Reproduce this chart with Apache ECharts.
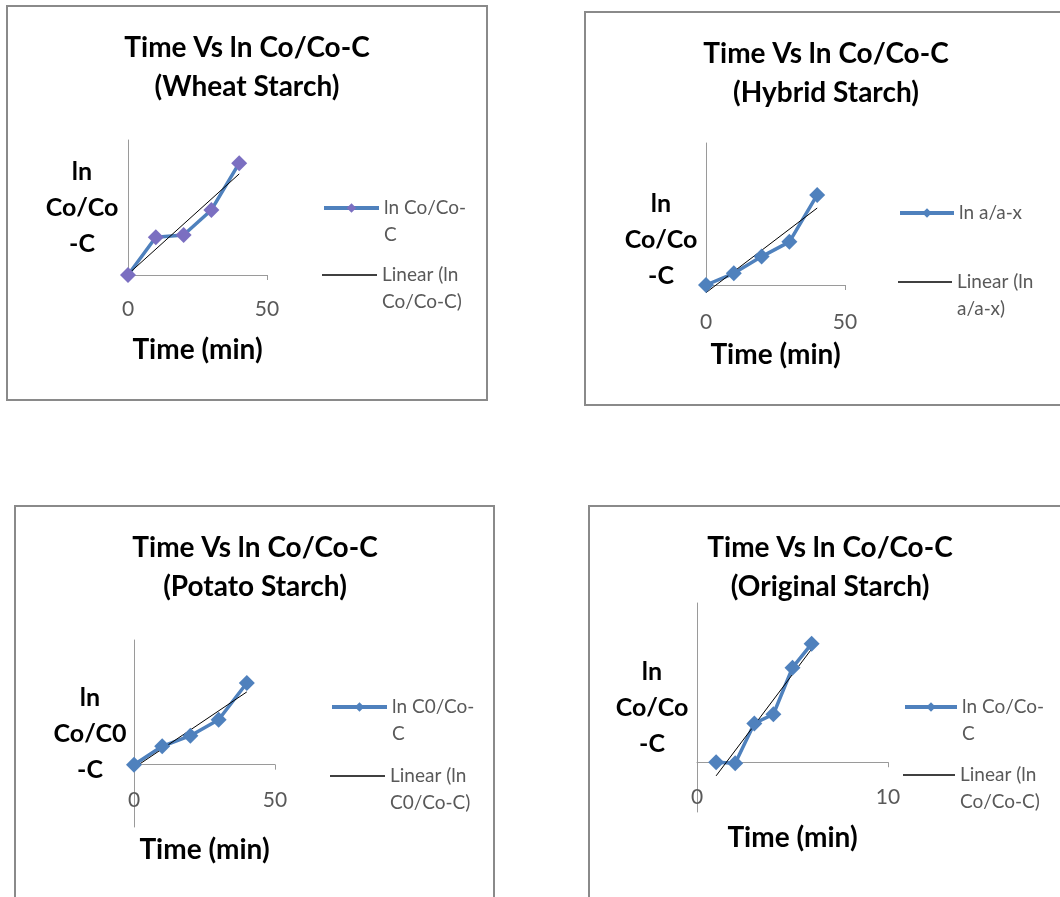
<!DOCTYPE html>
<html><head><meta charset="utf-8">
<script src="https://cdn.jsdelivr.net/npm/echarts@6/dist/echarts.min.js"></script>
<style>html,body{margin:0;padding:0;background:#fff}#c{width:1060px;height:897px}</style>
</head><body><div id="c"></div>
<script>
// ---- data ----
const wheatTime = [0, 10, 20, 30, 40];
const wheatLn = [0, 0.140, 0.148, 0.241, 0.414];
const hybridTime = [0, 10, 20, 30, 40];
const hybridLn = [0, 0.041, 0.100, 0.152, 0.317];
const potatoTime = [0, 10, 20, 30, 40];
const potatoLn = [0, 0.059, 0.093, 0.144, 0.262];
const originalTime = [1, 2, 3, 4, 5, 6];
const originalLn = [0, -0.005, 0.195, 0.241, 0.475, 0.595];

const titles = [
  'Time Vs ln Co/Co-C\n(Wheat Starch)',
  'Time Vs ln Co/Co-C\n(Hybrid Starch)',
  'Time Vs ln Co/Co-C\n(Potato Starch)',
  'Time Vs ln Co/Co-C\n(Original Starch)'
];
const yNameLines = [['ln', 'Co/Co', '-C'], ['ln', 'Co/Co', '-C'], ['ln', 'Co/C0', '-C'], ['ln', 'Co/Co', '-C']];
const xName = 'Time (min)';
const seriesNames = ['ln Co/Co-\nC', 'ln a/a-x', 'ln C0/Co-\nC', 'ln Co/Co-\nC '];
const trendNames = ['Linear (ln\nCo/Co-C)', 'Linear (ln\na/a-x)', 'Linear (ln\nC0/Co-C)', 'Linear (ln\nCo/Co-C) '];
const xMin = [0, 0, 0, 0];
const xMax = [50, 50, 50, 10];
const xStep = [50, 50, 50, 10];
const yMin = [0, 0, -0.2, -0.25];
const yMax = [0.5, 0.5, 0.4, 0.8];

const xs = [wheatTime, hybridTime, potatoTime, originalTime];
const ys = [wheatLn, hybridLn, potatoLn, originalLn];

// ---- layout / style ----
const FONT = 'Lato, "Open Sans", sans-serif';
const layout = [
  {grid:{left:128, top:140, width:139, height:135}, border:[7,6,480,394], title:[247,67.5], xGap:75, lblM:34, yGap:46, yShift:0,
   leg:[{left:322, cy:208},{left:322, cy:275}], itemW:55, marker:'#7b6fc1'},
  {grid:{left:706, top:143, width:139, height:142}, border:[585,12,490,393], title:[826,73], xGap:70, lblM:37, yGap:45, yShift:52,
   leg:[{left:898, cy:213},{left:898, cy:282}], itemW:54, marker:'#4f81bd'},
  {grid:{left:134, top:640, width:141, height:187}, border:[15,506,479,410], title:[255,567.5], xGap:23, lblM:-27, yGap:44, yShift:0,
   leg:[{left:330, cy:707},{left:330, cy:776}], itemW:55, marker:'#4f81bd'},
  {grid:{left:697, top:603, width:191, height:209}, border:[589,506,490,410], title:[830,567], xGap:26, lblM:-15, yGap:45, yShift:0,
   leg:[{left:903, cy:707},{left:903, cy:775}], itemW:52, marker:'#4f81bd'}
];

function linearFit(x, y) {
  const n = x.length;
  const mx = x.reduce((a, b) => a + b, 0) / n;
  const my = y.reduce((a, b) => a + b, 0) / n;
  let sxy = 0, sxx = 0;
  for (let i = 0; i < n; i++) { sxy += (x[i] - mx) * (y[i] - my); sxx += (x[i] - mx) ** 2; }
  const b = sxy / sxx, a = my - b * mx;
  const x0 = Math.min(...x), x1 = Math.max(...x);
  return [[x0, a + b * x0], [x1, a + b * x1]];
}

const grid = [], xAxis = [], yAxis = [], series = [], legend = [], graphic = [];

layout.forEach((L, i) => {
  grid.push(Object.assign({outerBoundsMode: 'none', containLabel: false}, L.grid));
  xAxis.push({
    type: 'value', gridIndex: i, min: xMin[i], max: xMax[i], interval: xStep[i],
    name: xName, nameLocation: 'middle', nameGap: L.xGap,
    nameTextStyle: {fontFamily: FONT, fontWeight: 'bold', fontSize: 28, color: '#000', verticalAlign: 'middle'},
    axisLine: {show: true, onZero: true, lineStyle: {color: '#9a9a9a', width: 1}},
    axisTick: {show: true, length: 5, lineStyle: {color: '#9a9a9a'}},
    axisLabel: {show: true, margin: L.lblM, fontFamily: FONT, fontSize: 21, color: '#595959', verticalAlign: 'middle'},
    splitLine: {show: false}
  });
  const yName = (L.yShift ? '{s| }\n' : '') + yNameLines[i].map(t => '{n|' + t + '}').join('\n');
  yAxis.push({
    type: 'value', gridIndex: i, min: yMin[i], max: yMax[i],
    name: yName, nameLocation: 'middle', nameGap: L.yGap, nameRotate: 0,
    nameTextStyle: {align: 'center', verticalAlign: 'middle',
      rich: {
        n: {fontFamily: FONT, fontWeight: 'bold', fontSize: 25, lineHeight: 36, color: '#000', align: 'center'},
        s: {fontSize: 10, lineHeight: L.yShift || 1}
      }},
    axisLine: {show: true, onZero: true, lineStyle: {color: '#9a9a9a', width: 1}},
    axisTick: {show: false}, axisLabel: {show: false}, splitLine: {show: false}
  });
  series.push({
    type: 'line', name: seriesNames[i], xAxisIndex: i, yAxisIndex: i,
    data: xs[i].map((x, k) => [x, ys[i][k]]),
    symbol: 'diamond', symbolSize: 16, showSymbol: true, clip: false,
    lineStyle: {color: '#4f81bd', width: 3.5},
    itemStyle: {color: L.marker},
    emphasis: {disabled: true}, animation: false
  });
  series.push({
    type: 'line', name: trendNames[i], xAxisIndex: i, yAxisIndex: i,
    data: linearFit(xs[i], ys[i]),
    symbol: 'none', showSymbol: false, clip: false,
    lineStyle: {color: '#000', width: 1},
    itemStyle: {color: '#000'},
    emphasis: {disabled: true}, animation: false, z: 3
  });
  [seriesNames[i], trendNames[i]].forEach((nm, j) => {
    const two = nm.indexOf('\n') >= 0;
    const isTrend = j === 1;
    const leg = {
      data: [nm], left: L.leg[j].left, top: L.leg[j].cy - (two ? 40.5 : 13.5),
      orient: 'vertical', padding: 0, itemWidth: L.itemW, itemHeight: isTrend ? 1.5 : 12, selectedMode: false,
      formatter: two ? (name => ' \n' + name) : (name => name),
      textStyle: {fontFamily: FONT, fontSize: 19, lineHeight: 27, color: '#595959'}
    };
    if (isTrend) leg.icon = 'rect';
    else leg.lineStyle = {width: 4};
    legend.push(leg);
  });
  graphic.push({
    type: 'rect', shape: {x: L.border[0], y: L.border[1], width: L.border[2], height: L.border[3]},
    style: {fill: 'none', stroke: '#8a8a8a', lineWidth: 2}, silent: true, z: -1
  });
  graphic.push({
    type: 'text', x: L.title[0], y: L.title[1], silent: true,
    style: {text: titles[i], fontFamily: FONT, fontWeight: 'bold', fontSize: 28, lineHeight: 39,
      fill: '#000', textAlign: 'center', textVerticalAlign: 'middle'}
  });
});

const chart = echarts.init(document.getElementById('c'), null, {renderer: 'canvas'});
chart.setOption({animation: false, backgroundColor: '#fff', grid, xAxis, yAxis, series, legend, graphic, tooltip: {show: false}});
</script></body></html>
